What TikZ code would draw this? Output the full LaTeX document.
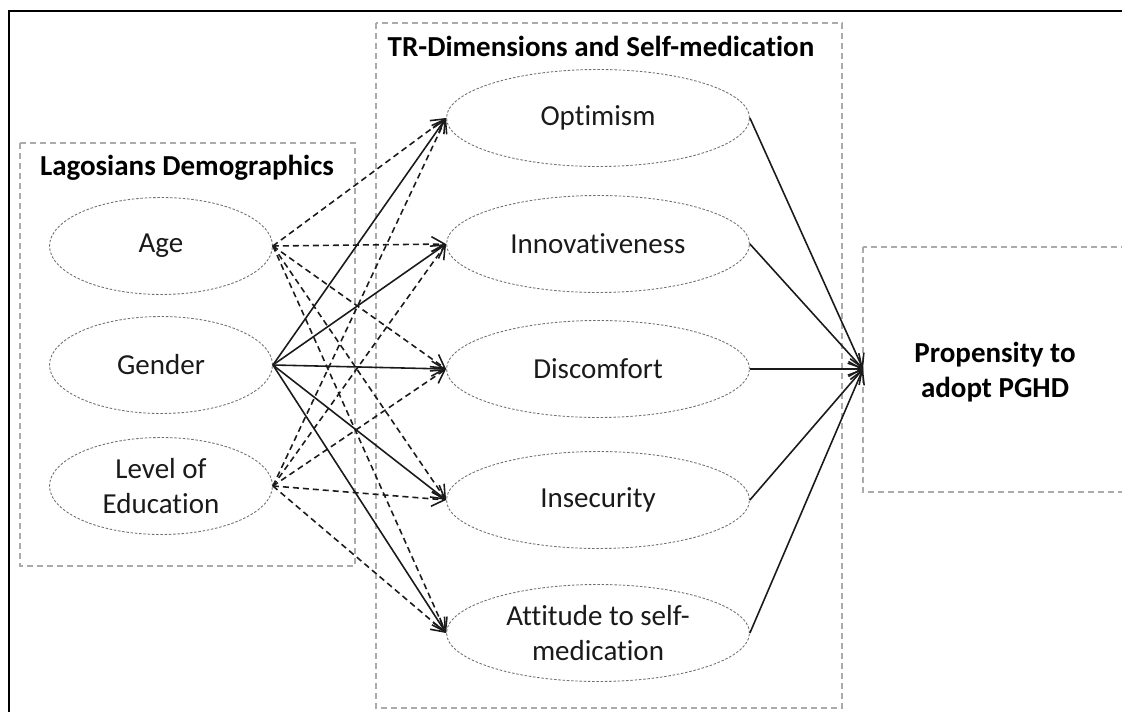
\documentclass[tikz,border=0pt]{standalone}
\usepackage{fontspec}
\setmainfont[Ligatures=NoCommon]{Carlito}
\usepackage{tikz}
\usetikzlibrary{positioning, arrows.meta, shapes.geometric}
\definecolor{dgray}{HTML}{707070}
\definecolor{lgray}{HTML}{ABABAB}
\definecolor{tblack}{HTML}{1A1A1A}

\begin{document}
\begin{tikzpicture}[x=0.02cm, y=-0.02cm,
    demo/.style={ellipse, draw=dgray, dash pattern=on 0.5mm off 0.35mm, line width=0.5pt, minimum width=4.46cm, minimum height=1.94cm, inner sep=0pt, align=center, text=tblack, font=\fontsize{16.5pt}{19.9pt}\selectfont},
    trdim/.style={demo, minimum width=6.06cm},
    grpbox/.style={draw=lgray, dash pattern=on 1.3mm off 0.7mm, line width=0.6pt},
    grptitle/.style={font=\bfseries\fontsize{16.5pt}{19.9pt}\selectfont, text=black, align=center},
    arr/.style={-{Straight Barb[length=2.6mm, width=3mm]}, line width=0.9pt, tblack},
    darr/.style={arr, dash pattern=on 1.2mm off 0.8mm},
]
\path[use as bounding box, clip] (0,0) rectangle (1122,712);
\draw[line width=1.3pt] (9,11) rectangle (1140,730);

% group boxes
\draw[grpbox] (20,143) rectangle (355,566);
\draw[grpbox] (376,23) rectangle (842,708);
\draw[grpbox] (863,247) rectangle (1130,492);

\node[grptitle] (demotitle) at (187,168) {Lagosians Demographics};
\node[grptitle] (trtitle) at (601,46) {TR-Dimensions and Self-medication};
\node[grptitle] (pghd) at (995,372) {Propensity to\\adopt PGHD};

% demographics
\node[demo] (age) at (161,246) {Age};
\node[demo] (gender) at (161,365) {Gender};
\node[demo] (educ) at (161,486) {Level of\\Education};

% TR dimensions
\node[trdim] (opt) at (598,118) {Optimism};
\node[trdim] (innov) at (598,244) {Innovativeness};
\node[trdim] (disc) at (598,369) {Discomfort};
\node[trdim] (insec) at (598,500) {Insecurity};
\node[trdim] (att) at (598,633) {Attitude to self-\\medication};

\coordinate (pin) at (863,369);

\foreach \t in {opt, innov, disc, insec, att} {
    \draw[darr] (age.east) -- (\t.west);
    \draw[arr] (gender.east) -- (\t.west);
    \draw[darr] (educ.east) -- (\t.west);
    \draw[arr] (\t.east) -- (pin);
}
\end{tikzpicture}
\end{document}
